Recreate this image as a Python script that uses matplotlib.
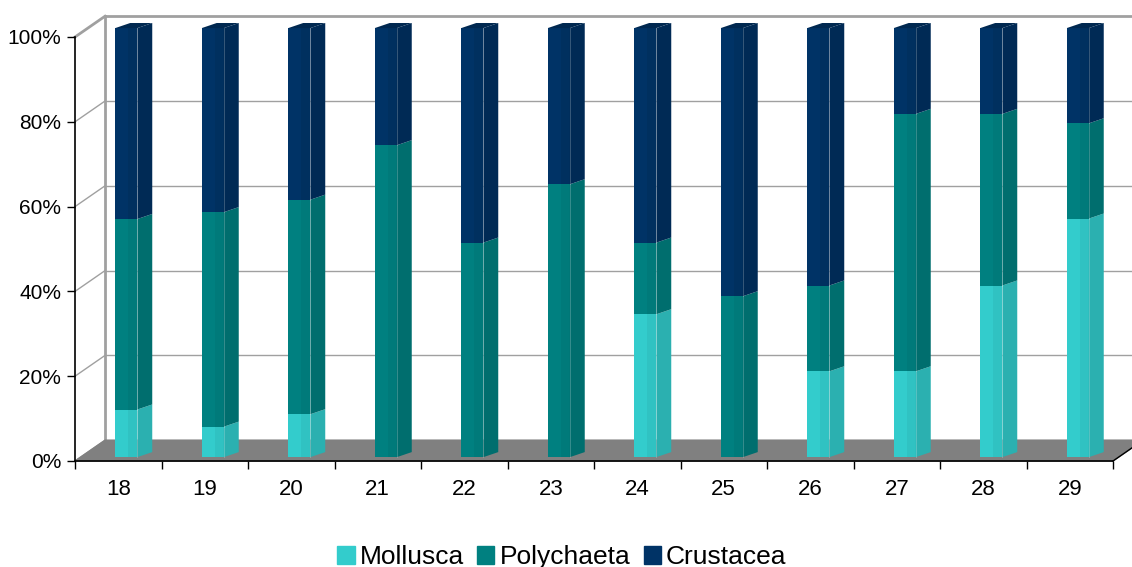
import numpy as np
import matplotlib.pyplot as plt
from matplotlib.patches import Patch

plt.rcParams['font.family'] = ['Liberation Sans', 'DejaVu Sans']

# share of each group per station (%)
stations = ['18', '19', '20', '21', '22', '23', '24', '25', '26', '27', '28', '29']
mollusca = [11.1, 7.1, 10.0, 0.0, 0.0, 0.0, 33.3, 0.0, 20.0, 20.0, 40.0, 55.6]
polychaeta = [44.4, 50.0, 50.0, 72.7, 50.0, 63.6, 16.7, 37.5, 20.0, 60.0, 40.0, 22.2]
crustacea = [44.5, 42.9, 40.0, 27.3, 50.0, 36.4, 50.0, 62.5, 60.0, 20.0, 20.0, 22.2]
series_names = ['Mollusca', 'Polychaeta', 'Crustacea']

# front / middle strip / side / top shades for each series
shades = {
    'Mollusca': ('#33CCCC', '#30C2C2', '#2BB0B0', '#3AD6D6'),
    'Polychaeta': ('#008080', '#007A7A', '#006E6E', '#008C8C'),
    'Crustacea': ('#003366', '#00305F', '#002A55', '#002850'),
}

W, H = 1132, 567
fig = plt.figure(figsize=(W / 100, H / 100), dpi=100)
ax = fig.add_axes([75 / W, (H - 461) / H, (1113 - 75) / W, (461 - 37) / H])
ax.set_xlim(-0.5, len(stations) - 0.5)
ax.set_ylim(0, 100)

# depth of the 3d box in data units
DX, DY = 0.347, 4.9
xl, xr = -0.5, len(stations) - 0.5

# back wall grid
for v in range(0, 101, 20):
    lw = 2.0 if v == 100 else 1.0
    ax.plot([xl + DX, xr + DX + 0.3], [v + DY, v + DY], color='#A0A0A0', lw=lw,
            clip_on=False, zorder=1)
    ax.plot([xl, xl + DX], [v, v + DY], color='#A0A0A0', lw=lw, clip_on=False, zorder=1)
ax.plot([xl + DX, xl + DX], [DY, 100 + DY], color='#A0A0A0', lw=2, clip_on=False, zorder=1)

# floor
ax.fill([xl, xr, xr + DX, xl + DX], [0, 0, DY, DY], color='#808080', clip_on=False, zorder=2)
ax.plot([xr, xr + DX], [0, DY], color='black', lw=1, clip_on=False, zorder=3)

# bars
x = np.arange(len(stations))
data = [mollusca, polychaeta, crustacea]
y0, k = 0.9, 1.012
f0, fm, f1 = -0.035, 0.116, 0.22
ddx, ddy = 0.173, 1.2
bottom = np.zeros(len(stations))
for name, vals in zip(series_names, data):
    vals = np.array(vals)
    c_front, c_mid, c_side, c_top = shades[name]
    b = y0 + bottom * k
    t = y0 + (bottom + vals) * k
    for left, right, col in [(f0, fm, c_front), (fm, f1, c_mid)]:
        bars = ax.bar(x + left, t - b, bottom=b, width=right - left, align='edge',
                      color=col, zorder=4)
        for p in bars:
            p.set_clip_on(False)
    for i in range(len(stations)):
        if vals[i] <= 0:
            continue
        xs = x[i] + f1
        ax.fill([xs, xs + ddx, xs + ddx, xs], [b[i], b[i] + ddy, t[i] + ddy, t[i]],
                color=c_side, zorder=4, lw=0, clip_on=False)
        ax.plot([xs, xs], [b[i], t[i]], color='white', alpha=0.25, lw=0.6, zorder=5,
                clip_on=False)
    bottom = bottom + vals

# top caps of the stacks
for i in range(len(stations)):
    t = y0 + bottom[i] * k
    ax.fill([x[i] + f0, x[i] + f1, x[i] + f1 + ddx, x[i] + f0 + ddx],
            [t, t, t + ddy, t + ddy], color=shades['Crustacea'][3], zorder=5, lw=0,
            clip_on=False)

# axes
for s in ['top', 'right']:
    ax.spines[s].set_visible(False)
ax.spines['left'].set_linewidth(1.2)
ax.spines['bottom'].set_linewidth(1.2)
ax.spines['left'].set_zorder(6)
ax.spines['bottom'].set_zorder(6)

ax.set_yticks(range(0, 101, 20))
ax.set_yticklabels([f'{v}%' for v in range(0, 101, 20)], fontsize=15)
ax.tick_params(axis='y', length=6, width=1, pad=4)

ax.set_xticks(x)
ax.set_xticklabels(stations, fontsize=16)
ax.set_xticks(np.arange(-0.5, len(stations), 1), minor=True)
ax.tick_params(axis='x', which='major', length=0, pad=13)
ax.tick_params(axis='x', which='minor', length=6, width=1)

handles = [Patch(color=shades[n][0]) for n in series_names]
fig.legend(handles, series_names, loc='center', bbox_to_anchor=(562 / W, 1 - 557 / H),
           ncol=3, frameon=False, fontsize=19, handlelength=0.65, handleheight=0.65,
           handletextpad=0.2, columnspacing=0.5, borderpad=0)

fig.savefig('out.png', dpi=100)
